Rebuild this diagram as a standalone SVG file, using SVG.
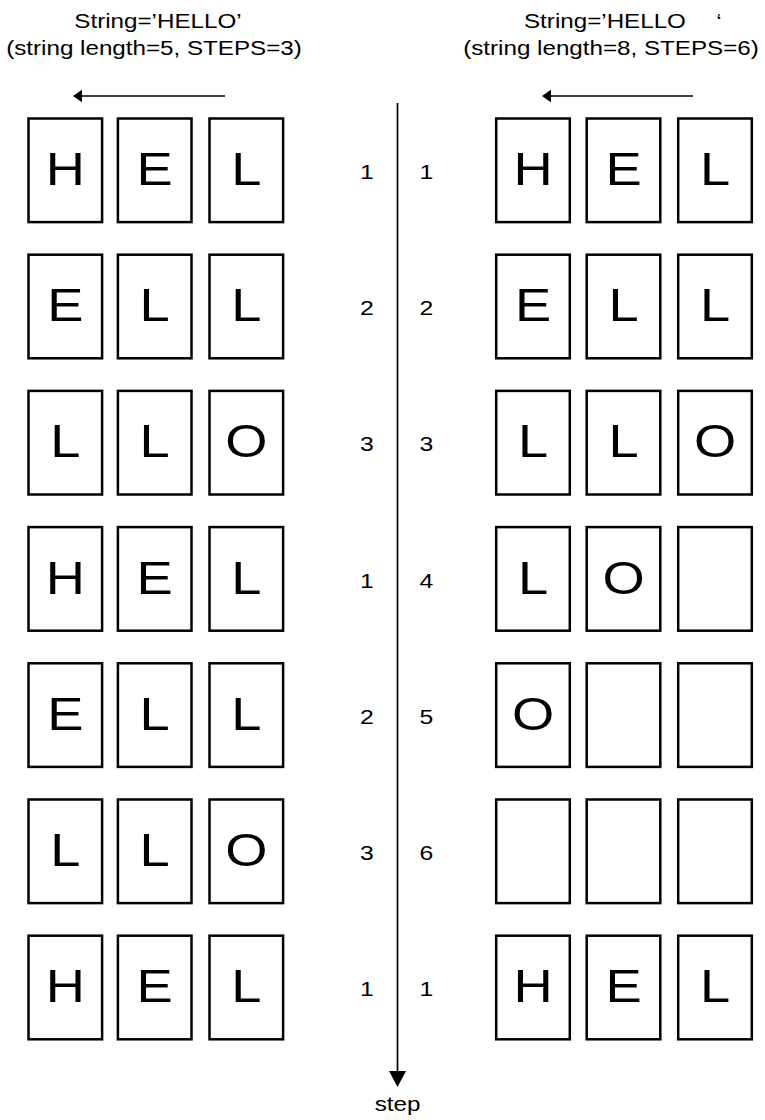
<svg xmlns="http://www.w3.org/2000/svg" width="765" height="1120" viewBox="0 0 765 1120">
<style>
.bg{fill:#fff}
.box{fill:none;stroke:#000;stroke-width:2.5}
.lt{font-family:"Liberation Sans",Arial,sans-serif;font-size:46px;text-anchor:middle;fill:#000}
.num{font-family:"Liberation Sans",Arial,sans-serif;font-size:21px;text-anchor:middle;fill:#000}
.hd{font-family:"Liberation Sans",Arial,sans-serif;font-size:20.5px;fill:#000}
.c{text-anchor:middle}
.conn{stroke:#000;stroke-width:1.7;fill:none}
</style>
<defs>
<marker id="ahS" markerUnits="userSpaceOnUse" viewBox="0 0 9 12.6" markerWidth="9" markerHeight="12.6" refX="2" refY="6.3" orient="auto"><path d="M0,0 L9,6.3 L0,12.6 z" fill="#000"/></marker>
<marker id="ahL" markerUnits="userSpaceOnUse" viewBox="0 0 16 17" markerWidth="16" markerHeight="17" refX="2" refY="8.5" orient="auto"><path d="M0,0 L16,8.5 L0,17 z" fill="#000"/></marker>
</defs>
<rect class="bg" x="0" y="0" width="765" height="1120"/>

<g id="headers">
<text class="hd c" transform="translate(158,28) scale(1.18,1)">String=’HELLO’</text>
<text class="hd c" transform="translate(154,55) scale(1.18,1)">(string length=5, STEPS=3)</text>
<text class="hd" xml:space="preserve" transform="translate(524,28) scale(1.18,1)">String=’HELLO   <tspan x="163">‘</tspan></text>
<text class="hd c" transform="translate(611,55) scale(1.18,1)">(string length=8, STEPS=6)</text>
<text class="hd c" transform="translate(397.5,1111) scale(1.18,1)">step</text>
</g>

<g id="connectors">
<line class="conn" x1="225" y1="96" x2="80" y2="96" marker-end="url(#ahS)"/>
<line class="conn" x1="693" y1="96" x2="549" y2="96" marker-end="url(#ahS)"/>
<line class="conn" x1="397.5" y1="103" x2="397.5" y2="1073" marker-end="url(#ahL)"/>
</g>

<!-- Left column -->
<g id="L1a"><rect class="box" x="28.5" y="118.5" width="73.6" height="103.6"/><text class="lt" transform="translate(65.3,185) scale(1.18,1)">H</text></g>
<g id="L1b"><rect class="box" x="117.9" y="118.5" width="73.6" height="103.6"/><text class="lt" transform="translate(154.7,185) scale(1.18,1)">E</text></g>
<g id="L1c"><rect class="box" x="209.5" y="118.5" width="73.6" height="103.6"/><text class="lt" transform="translate(246.3,185) scale(1.18,1)">L</text></g>

<g id="L2a"><rect class="box" x="28.5" y="254.7" width="73.6" height="103.6"/><text class="lt" transform="translate(65.3,321.2) scale(1.18,1)">E</text></g>
<g id="L2b"><rect class="box" x="117.9" y="254.7" width="73.6" height="103.6"/><text class="lt" transform="translate(154.7,321.2) scale(1.18,1)">L</text></g>
<g id="L2c"><rect class="box" x="209.5" y="254.7" width="73.6" height="103.6"/><text class="lt" transform="translate(246.3,321.2) scale(1.18,1)">L</text></g>

<g id="L3a"><rect class="box" x="28.5" y="390.9" width="73.6" height="103.6"/><text class="lt" transform="translate(65.3,457.4) scale(1.18,1)">L</text></g>
<g id="L3b"><rect class="box" x="117.9" y="390.9" width="73.6" height="103.6"/><text class="lt" transform="translate(154.7,457.4) scale(1.18,1)">L</text></g>
<g id="L3c"><rect class="box" x="209.5" y="390.9" width="73.6" height="103.6"/><text class="lt" transform="translate(246.3,457.4) scale(1.18,1)">O</text></g>

<g id="L4a"><rect class="box" x="28.5" y="527.1" width="73.6" height="103.6"/><text class="lt" transform="translate(65.3,593.6) scale(1.18,1)">H</text></g>
<g id="L4b"><rect class="box" x="117.9" y="527.1" width="73.6" height="103.6"/><text class="lt" transform="translate(154.7,593.6) scale(1.18,1)">E</text></g>
<g id="L4c"><rect class="box" x="209.5" y="527.1" width="73.6" height="103.6"/><text class="lt" transform="translate(246.3,593.6) scale(1.18,1)">L</text></g>

<g id="L5a"><rect class="box" x="28.5" y="663.3" width="73.6" height="103.6"/><text class="lt" transform="translate(65.3,729.8) scale(1.18,1)">E</text></g>
<g id="L5b"><rect class="box" x="117.9" y="663.3" width="73.6" height="103.6"/><text class="lt" transform="translate(154.7,729.8) scale(1.18,1)">L</text></g>
<g id="L5c"><rect class="box" x="209.5" y="663.3" width="73.6" height="103.6"/><text class="lt" transform="translate(246.3,729.8) scale(1.18,1)">L</text></g>

<g id="L6a"><rect class="box" x="28.5" y="799.5" width="73.6" height="103.6"/><text class="lt" transform="translate(65.3,866) scale(1.18,1)">L</text></g>
<g id="L6b"><rect class="box" x="117.9" y="799.5" width="73.6" height="103.6"/><text class="lt" transform="translate(154.7,866) scale(1.18,1)">L</text></g>
<g id="L6c"><rect class="box" x="209.5" y="799.5" width="73.6" height="103.6"/><text class="lt" transform="translate(246.3,866) scale(1.18,1)">O</text></g>

<g id="L7a"><rect class="box" x="28.5" y="935.7" width="73.6" height="103.6"/><text class="lt" transform="translate(65.3,1002.2) scale(1.18,1)">H</text></g>
<g id="L7b"><rect class="box" x="117.9" y="935.7" width="73.6" height="103.6"/><text class="lt" transform="translate(154.7,1002.2) scale(1.18,1)">E</text></g>
<g id="L7c"><rect class="box" x="209.5" y="935.7" width="73.6" height="103.6"/><text class="lt" transform="translate(246.3,1002.2) scale(1.18,1)">L</text></g>

<!-- Right column -->
<g id="R1a"><rect class="box" x="496.2" y="118.5" width="73.6" height="103.6"/><text class="lt" transform="translate(533,185) scale(1.18,1)">H</text></g>
<g id="R1b"><rect class="box" x="586.7" y="118.5" width="73.6" height="103.6"/><text class="lt" transform="translate(623.5,185) scale(1.18,1)">E</text></g>
<g id="R1c"><rect class="box" x="678.2" y="118.5" width="73.6" height="103.6"/><text class="lt" transform="translate(715,185) scale(1.18,1)">L</text></g>

<g id="R2a"><rect class="box" x="496.2" y="254.7" width="73.6" height="103.6"/><text class="lt" transform="translate(533,321.2) scale(1.18,1)">E</text></g>
<g id="R2b"><rect class="box" x="586.7" y="254.7" width="73.6" height="103.6"/><text class="lt" transform="translate(623.5,321.2) scale(1.18,1)">L</text></g>
<g id="R2c"><rect class="box" x="678.2" y="254.7" width="73.6" height="103.6"/><text class="lt" transform="translate(715,321.2) scale(1.18,1)">L</text></g>

<g id="R3a"><rect class="box" x="496.2" y="390.9" width="73.6" height="103.6"/><text class="lt" transform="translate(533,457.4) scale(1.18,1)">L</text></g>
<g id="R3b"><rect class="box" x="586.7" y="390.9" width="73.6" height="103.6"/><text class="lt" transform="translate(623.5,457.4) scale(1.18,1)">L</text></g>
<g id="R3c"><rect class="box" x="678.2" y="390.9" width="73.6" height="103.6"/><text class="lt" transform="translate(715,457.4) scale(1.18,1)">O</text></g>

<g id="R4a"><rect class="box" x="496.2" y="527.1" width="73.6" height="103.6"/><text class="lt" transform="translate(533,593.6) scale(1.18,1)">L</text></g>
<g id="R4b"><rect class="box" x="586.7" y="527.1" width="73.6" height="103.6"/><text class="lt" transform="translate(623.5,593.6) scale(1.18,1)">O</text></g>
<g id="R4c"><rect class="box" x="678.2" y="527.1" width="73.6" height="103.6"/></g>

<g id="R5a"><rect class="box" x="496.2" y="663.3" width="73.6" height="103.6"/><text class="lt" transform="translate(533,729.8) scale(1.18,1)">O</text></g>
<g id="R5b"><rect class="box" x="586.7" y="663.3" width="73.6" height="103.6"/></g>
<g id="R5c"><rect class="box" x="678.2" y="663.3" width="73.6" height="103.6"/></g>

<g id="R6a"><rect class="box" x="496.2" y="799.5" width="73.6" height="103.6"/></g>
<g id="R6b"><rect class="box" x="586.7" y="799.5" width="73.6" height="103.6"/></g>
<g id="R6c"><rect class="box" x="678.2" y="799.5" width="73.6" height="103.6"/></g>

<g id="R7a"><rect class="box" x="496.2" y="935.7" width="73.6" height="103.6"/><text class="lt" transform="translate(533,1002.2) scale(1.18,1)">H</text></g>
<g id="R7b"><rect class="box" x="586.7" y="935.7" width="73.6" height="103.6"/><text class="lt" transform="translate(623.5,1002.2) scale(1.18,1)">E</text></g>
<g id="R7c"><rect class="box" x="678.2" y="935.7" width="73.6" height="103.6"/><text class="lt" transform="translate(715,1002.2) scale(1.18,1)">L</text></g>

<!-- Step numbers -->
<g id="numsLeft">
<text class="num" transform="translate(367,179) scale(1.18,1)">1</text>
<text class="num" transform="translate(367,315.2) scale(1.18,1)">2</text>
<text class="num" transform="translate(367,451.4) scale(1.18,1)">3</text>
<text class="num" transform="translate(367,587.6) scale(1.18,1)">1</text>
<text class="num" transform="translate(367,723.8) scale(1.18,1)">2</text>
<text class="num" transform="translate(367,860) scale(1.18,1)">3</text>
<text class="num" transform="translate(367,996.2) scale(1.18,1)">1</text>
</g>
<g id="numsRight">
<text class="num" transform="translate(426.5,179) scale(1.18,1)">1</text>
<text class="num" transform="translate(426.5,315.2) scale(1.18,1)">2</text>
<text class="num" transform="translate(426.5,451.4) scale(1.18,1)">3</text>
<text class="num" transform="translate(426.5,587.6) scale(1.18,1)">4</text>
<text class="num" transform="translate(426.5,723.8) scale(1.18,1)">5</text>
<text class="num" transform="translate(426.5,860) scale(1.18,1)">6</text>
<text class="num" transform="translate(426.5,996.2) scale(1.18,1)">1</text>
</g>
</svg>
